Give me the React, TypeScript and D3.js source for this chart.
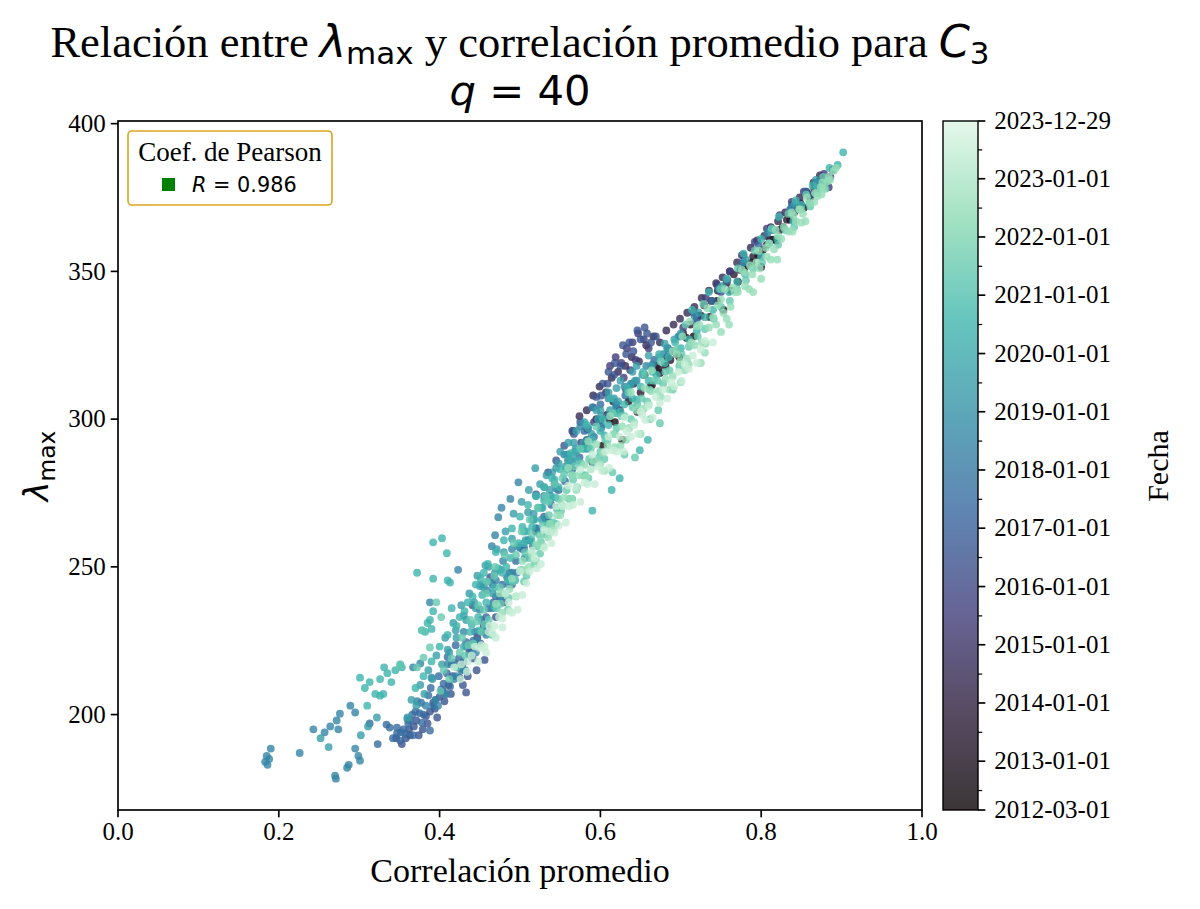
import React from "react";
import * as d3 from "d3";

// ---------------- data ----------------
const xTickValues = [0.0, 0.2, 0.4, 0.6, 0.8, 1.0];
const yTickValues = [200, 250, 300, 350, 400];
const colorbarTickLabels = [
  "2012-03-01", "2013-01-01", "2014-01-01", "2015-01-01", "2016-01-01", "2017-01-01",
  "2018-01-01", "2019-01-01", "2020-01-01", "2021-01-01", "2022-01-01", "2023-01-01", "2023-12-29",
];
const colorbarMinorTicks = [
  "2012-07-01", "2013-07-01", "2014-07-01", "2015-07-01", "2016-07-01", "2017-07-01",
  "2018-07-01", "2019-07-01", "2020-07-01", "2021-07-01", "2022-07-01", "2023-07-01",
];
const dateStart = "2012-03-01";
const dateEnd = "2023-12-29";
const groupDates = [
  "2012-08-01", "2013-07-01", "2014-07-01", "2015-07-01", "2016-07-01", "2017-07-01",
  "2018-07-01", "2019-07-01", "2020-07-01", "2021-07-01", "2022-07-01", "2023-07-01",
];
const pearsonR = 0.986;

// [correlación promedio, lambda_max]
const pts2012 = [[0.58,291],[0.59,285.5],[0.603,291],[0.611,300],[0.618,299],[0.627,293],[0.635,306],[0.646,302.5],[0.655,315],[0.664,311.5],[0.672,317],[0.681,318],[0.69,323],[0.698,321],[0.707,327.5],[0.716,328],[0.725,335],[0.736,334.6],[0.745,340],[0.753,337],[0.762,343.5],[0.771,346.5],[0.779,351],[0.788,353],[0.796,355.5],[0.802,357.3],[0.811,360.7],[0.819,360.5],[0.827,365],[0.836,367.5],[0.845,371],[0.853,371.5],[0.861,375]];
const pts2013 = [[0.595,300],[0.6,299.7],[0.608,301.4],[0.616,306],[0.624,303],[0.632,310],[0.641,312],[0.65,309],[0.662,311],[0.669,318],[0.674,315.6],[0.683,321],[0.687,320],[0.695,322],[0.703,329],[0.712,332],[0.721,335],[0.729,338.5],[0.738,340],[0.746,343.5],[0.757,346],[0.766,349],[0.774,350.5],[0.782,352],[0.79,355],[0.8,351.5],[0.807,359],[0.815,360.7],[0.823,364],[0.832,367.5],[0.841,370],[0.849,373],[0.857,376.5],[0.866,378],[0.872,380.5]];
const pts2014 = [[0.566,296],[0.574,301],[0.583,303],[0.591,308],[0.599,311],[0.607,309],[0.614,314],[0.622,316],[0.631,318],[0.639,321],[0.648,319.5],[0.657,325],[0.666,328],[0.674,326],[0.682,330],[0.691,332],[0.699,334],[0.708,336],[0.717,338],[0.726,341],[0.735,343.5],[0.744,346],[0.752,348],[0.761,350],[0.77,353],[0.778,355.5],[0.787,358],[0.795,360.5],[0.804,362],[0.812,365],[0.821,367],[0.83,370],[0.839,372.5],[0.848,375],[0.856,377],[0.865,380],[0.873,382.5]];
const pts2015 = [[0.612,318],[0.619,321],[0.626,319],[0.633,324],[0.64,326],[0.647,329],[0.654,327],[0.66,324],[0.644,320],[0.637,316.6],[0.629,314],[0.576,292],[0.584,296.5],[0.592,299],[0.569,289],[0.56,286],[0.703,331],[0.716,336],[0.731,341],[0.745,345.5],[0.761,350],[0.776,355.5],[0.792,360],[0.807,364.5],[0.823,369],[0.838,373.5],[0.853,377],[0.868,380],[0.878,383],[0.882,380],[0.886,382],[0.889,384.4],[0.884,378.5],[0.428,217],[0.437,221],[0.447,226],[0.455,230],[0.52,262],[0.532,266]];
const pts2016 = [[0.641,323],[0.65,327],[0.658,329],[0.663,326],[0.669,328],[0.632,322],[0.625,318],[0.617,315],[0.609,312],[0.601,308],[0.591,304],[0.583,293],[0.575,299],[0.567,295],[0.555,291],[0.545,286],[0.388,201],[0.392,204],[0.4,206],[0.404,208],[0.397,199],[0.385,197],[0.379,195],[0.374,193],[0.368,196],[0.363,193],[0.358,192],[0.353,190],[0.346,192],[0.411,210],[0.416,213],[0.421,216],[0.435,213],[0.429,210],[0.441,219],[0.451,224],[0.459,229.5],[0.441,237],[0.463,246.5],[0.47,233],[0.48,238],[0.862,376],[0.869,378],[0.876,380],[0.881,381],[0.72,334],[0.75,343],[0.52,274.5],[0.535,282],[0.565,296],[0.595,307.5],[0.362,195],[0.371,198],[0.383,199.5],[0.394,202],[0.406,204.5],[0.414,207],[0.425,212.5],[0.433,207.5],[0.446,215],[0.456,218.5],[0.636,326],[0.646,330],[0.655,331],[0.628,325],[0.618,319],[0.61,316],[0.603,312]];
const pts2017 = [[0.313,197],[0.323,190],[0.334,196.6],[0.338,195.6],[0.342,192],[0.347,193.6],[0.351,191.2],[0.355,195],[0.361,197],[0.367,193],[0.378,197.3],[0.388,194.6],[0.347,195.6],[0.363,198],[0.38,200],[0.395,205],[0.405,210.5],[0.409,214],[0.415,217],[0.424,219],[0.433,223],[0.444,228],[0.452,232],[0.461,236],[0.47,240],[0.478,244],[0.487,248],[0.495,252],[0.503,256],[0.512,259],[0.521,263],[0.53,267],[0.539,271],[0.548,276],[0.556,279],[0.565,283],[0.574,287],[0.583,290],[0.592,294],[0.601,297],[0.61,301],[0.62,304],[0.631,308],[0.667,320],[0.684,324],[0.699,328],[0.718,333],[0.739,340],[0.758,347],[0.778,353],[0.797,359],[0.816,364],[0.836,371],[0.855,377],[0.87,380],[0.352,194],[0.37,201],[0.386,206.5],[0.402,208.5],[0.418,217.5],[0.433,224.5],[0.45,228],[0.467,238],[0.484,246.5],[0.5,256.5],[0.517,266],[0.543,278],[0.56,288],[0.58,296],[0.6,305],[0.357,193.5],[0.375,200.5],[0.392,203],[0.413,209.5],[0.427,215.5],[0.44,221.5],[0.455,228],[0.475,239],[0.49,244],[0.505,256.5],[0.366,200],[0.377,204],[0.389,209],[0.399,213],[0.41,219.5],[0.42,223.5],[0.43,218],[0.442,225],[0.458,233],[0.466,244]];
const pts2018 = [[0.183,184],[0.186,183],[0.188,185],[0.185,186],[0.19,188.5],[0.226,187],[0.243,195],[0.257,194],[0.264,196],[0.272,198],[0.276,200.3],[0.274,195],[0.289,203],[0.295,200.7],[0.27,179.3],[0.271,178.3],[0.285,182],[0.287,183],[0.295,188.5],[0.299,186],[0.301,184.4],[0.388,238],[0.423,249],[0.367,216],[0.376,217.3],[0.398,203],[0.407,207],[0.418,212],[0.427,215],[0.437,220],[0.447,225],[0.457,230],[0.466,236],[0.476,240],[0.486,244],[0.496,248],[0.506,253],[0.516,257],[0.526,261],[0.536,265],[0.546,270],[0.459,242],[0.469,248],[0.479,252],[0.465,257],[0.469,260.7],[0.473,266.8],[0.477,270],[0.488,273],[0.498,278.6],[0.601,298],[0.619,305],[0.638,312],[0.657,318],[0.678,322],[0.697,328],[0.717,335],[0.747,344],[0.778,353],[0.808,363],[0.838,372],[0.36,198.5],[0.372,204.5],[0.39,212.5],[0.41,217],[0.43,228],[0.45,235.5],[0.47,245.5],[0.49,256],[0.51,259],[0.53,274],[0.555,288],[0.575,297.5],[0.59,304],[0.61,307],[0.63,311],[0.383,203],[0.395,205],[0.408,207],[0.42,213],[0.432,215],[0.445,221],[0.458,227],[0.49,248],[0.52,263],[0.545,276.5],[0.565,285.5],[0.585,293],[0.62,305],[0.645,313],[0.665,318.5],[0.685,323]];
const pts2019 = [[0.519,283.4],[0.533,281],[0.525,278],[0.511,276],[0.502,272],[0.492,268],[0.482,262],[0.471,256],[0.461,250],[0.452,244],[0.443,238],[0.433,232],[0.421,226],[0.412,221],[0.403,217],[0.391,212],[0.381,207],[0.371,203],[0.36,199],[0.302,193],[0.311,196],[0.322,199],[0.252,192],[0.262,189],[0.548,285],[0.558,288],[0.569,290],[0.579,292],[0.589,295],[0.601,301],[0.612,303],[0.622,306],[0.633,309],[0.643,313],[0.652,315],[0.663,318],[0.673,321],[0.683,324],[0.692,327],[0.722,336],[0.751,345],[0.781,354],[0.812,364],[0.842,373],[0.868,381],[0.505,262],[0.515,266],[0.527,270],[0.538,274],[0.445,236],[0.455,243],[0.466,241],[0.476,249],[0.486,247],[0.497,257],[0.507,259],[0.517,268],[0.527,266],[0.537,276],[0.557,284],[0.567,292],[0.577,290],[0.597,300],[0.617,307],[0.637,311.5],[0.41,222],[0.42,228.5],[0.43,233.5],[0.45,243.5],[0.46,245],[0.48,255],[0.49,259.5],[0.51,268.5],[0.52,274],[0.54,282],[0.56,292],[0.58,299],[0.6,303],[0.62,310.5],[0.64,316],[0.66,321.5],[0.68,325.5],[0.7,329],[0.365,205],[0.376,210],[0.386,215],[0.396,220],[0.407,226],[0.417,231],[0.427,237],[0.437,241],[0.447,247],[0.457,250.5],[0.53,277],[0.545,283.5],[0.55,289],[0.565,287],[0.57,296],[0.585,297],[0.595,303],[0.61,309],[0.625,313],[0.645,318]];
const pts2020 = [[0.301,212.5],[0.307,209],[0.313,211],[0.32,207],[0.326,206.4],[0.33,207],[0.31,203],[0.326,212],[0.335,214],[0.34,211],[0.345,215],[0.353,216],[0.331,216],[0.351,217],[0.382,228],[0.385,231],[0.39,229],[0.378,228.5],[0.392,246],[0.41,245.4],[0.413,244.7],[0.392,258.3],[0.403,259.7],[0.409,254.6],[0.372,248],[0.388,232],[0.392,235],[0.415,236],[0.421,230],[0.431,235],[0.441,240],[0.451,246],[0.46,251],[0.47,255],[0.48,259],[0.49,263],[0.5,267],[0.51,271],[0.52,274],[0.53,277],[0.54,280],[0.55,283],[0.56,286],[0.57,289],[0.58,290],[0.438,228],[0.448,233],[0.458,238],[0.468,243],[0.478,248],[0.488,253],[0.498,258],[0.508,262],[0.518,266],[0.528,270],[0.538,273],[0.6,296],[0.62,302],[0.64,307],[0.66,313],[0.68,319],[0.7,324],[0.72,330],[0.74,337],[0.76,343],[0.78,349],[0.8,355],[0.82,361],[0.84,367],[0.86,373],[0.88,380],[0.895,386],[0.902,390.3],[0.624,280],[0.614,276],[0.649,289.5],[0.659,293],[0.59,269],[0.43,223],[0.44,230.5],[0.449,228.5],[0.468,236.5],[0.485,245.5],[0.494,245.5],[0.514,259],[0.524,261],[0.534,264.5],[0.544,273.5],[0.565,281],[0.585,290.5],[0.605,294.5],[0.625,302.5],[0.645,306.5],[0.67,315],[0.71,327],[0.73,334.5],[0.77,346.5],[0.81,359.5],[0.85,372.5],[0.87,378.5],[0.714,337],[0.735,343],[0.757,347.5],[0.778,356],[0.8,361],[0.822,368.5],[0.843,374],[0.864,379],[0.885,385],[0.453,240.5],[0.473,249.5],[0.483,250],[0.503,263.5],[0.523,270],[0.543,279.5],[0.563,288.5],[0.583,298],[0.603,300],[0.613,307],[0.633,310.5],[0.653,316],[0.673,322],[0.693,326],[0.37,209],[0.38,213],[0.39,218],[0.4,223],[0.41,227],[0.425,233],[0.435,238],[0.445,244],[0.455,248],[0.505,258],[0.515,263.5],[0.53,272.5],[0.548,277],[0.558,283],[0.572,286],[0.59,293],[0.61,298],[0.63,305],[0.65,311],[0.665,316],[0.685,321]];
const pts2021 = [[0.401,208],[0.412,212],[0.421,216],[0.432,220],[0.442,224],[0.452,228],[0.461,232],[0.471,236],[0.481,241],[0.491,245],[0.501,249],[0.511,253],[0.521,257],[0.531,261],[0.541,265],[0.551,269],[0.561,273],[0.571,277],[0.581,281],[0.591,285],[0.6,289],[0.459,245],[0.469,250],[0.481,254],[0.492,258],[0.502,262],[0.512,266],[0.522,270],[0.532,274],[0.543,278],[0.553,280],[0.609,293],[0.62,297],[0.63,301],[0.64,304],[0.651,307],[0.661,310],[0.671,313],[0.681,316],[0.701,322],[0.721,328],[0.741,334],[0.761,340],[0.781,347],[0.801,353],[0.821,359],[0.841,365],[0.861,372],[0.88,378],[0.402,233],[0.396,238],[0.351,216.6],[0.372,216],[0.38,219.3],[0.388,222.7],[0.378,228.5],[0.63,288],[0.662,300],[0.69,310],[0.615,282],[0.672,303],[0.643,287],[0.674,298.6],[0.425,221],[0.436,223.5],[0.447,231.5],[0.456,230.5],[0.476,237.5],[0.486,239.5],[0.506,255],[0.526,258.5],[0.536,267.5],[0.546,269.5],[0.566,279.5],[0.576,285],[0.586,286.5],[0.606,293],[0.626,301],[0.646,305],[0.666,313],[0.686,316.5],[0.71,324.5],[0.73,330.5],[0.75,338],[0.77,344],[0.79,351],[0.83,364],[0.85,371],[0.87,376.5],[0.706,332],[0.728,339],[0.749,344],[0.771,351],[0.792,357],[0.813,364.5],[0.834,369.5],[0.856,376],[0.877,382],[0.455,235.5],[0.465,227],[0.475,243],[0.485,235.5],[0.495,254],[0.505,245],[0.515,261],[0.525,254.5],[0.535,272],[0.545,264.5],[0.555,281.5],[0.565,273],[0.575,290],[0.585,280],[0.595,297.5],[0.605,286.5],[0.615,302],[0.635,309],[0.655,315],[0.675,319.5],[0.695,323.5],[0.405,215],[0.415,219],[0.428,226],[0.438,232],[0.448,237],[0.458,241],[0.468,247],[0.508,247],[0.518,251],[0.528,264],[0.538,262],[0.548,273],[0.558,276],[0.568,284],[0.578,281],[0.588,290],[0.598,287],[0.618,295],[0.638,300],[0.658,306],[0.678,312],[0.698,318]];
const pts2022 = [[0.47,237.5],[0.478,234.5],[0.487,242.5],[0.495,240],[0.503,252],[0.511,250],[0.52,257.5],[0.529,257],[0.537,264.5],[0.546,267.5],[0.555,273.5],[0.564,273],[0.573,281],[0.582,280.5],[0.591,286],[0.6,285],[0.609,291],[0.618,290.5],[0.627,297.5],[0.636,297],[0.645,303],[0.654,303.5],[0.663,309.5],[0.672,309.5],[0.681,313.5],[0.69,314.5],[0.699,319.5],[0.708,320.5],[0.717,325],[0.726,326],[0.735,331],[0.744,332],[0.753,336],[0.762,338],[0.771,343],[0.78,345],[0.789,349],[0.798,351],[0.807,355],[0.816,357.5],[0.825,361],[0.834,363.5],[0.843,367],[0.852,369.5],[0.861,373],[0.87,375.5],[0.878,378],[0.886,381],[0.56,283.5],[0.585,292.5],[0.612,301],[0.638,309],[0.664,316.5],[0.69,323],[0.72,331.5],[0.75,340.5],[0.78,349.5],[0.81,359.5],[0.84,369],[0.65,295],[0.7,312.5],[0.75,329.5],[0.8,347.5],[0.85,366.5],[0.705,316.5],[0.713,326],[0.731,325.5],[0.74,334.5],[0.757,334],[0.767,343],[0.785,344],[0.794,353],[0.812,354],[0.821,362],[0.839,363.5],[0.848,371],[0.866,373.5],[0.874,378.5],[0.883,380.5],[0.89,384],[0.52,252],[0.535,260],[0.55,267.5],[0.565,281],[0.58,284.5],[0.595,291.5],[0.625,291],[0.655,310.5],[0.675,307.5],[0.695,322],[0.605,282.5],[0.702,328],[0.711,333],[0.723,332],[0.733,337.5],[0.746,338.5],[0.755,344],[0.765,344.5],[0.776,350.5],[0.786,352],[0.797,357],[0.806,358],[0.818,364],[0.828,365],[0.838,370],[0.847,371],[0.857,375],[0.867,376.5],[0.876,380],[0.884,382],[0.893,385],[0.725,319],[0.76,332],[0.79,343],[0.82,354],[0.855,367],[0.875,376],[0.475,241],[0.49,246],[0.506,249],[0.515,254.5],[0.525,260.5],[0.542,263],[0.552,271],[0.57,276],[0.588,283],[0.603,288.5],[0.616,295],[0.632,293],[0.642,299],[0.66,305],[0.686,310],[0.71,318.5],[0.73,322.5]];
const pts2023 = [[0.418,216],[0.427,217],[0.435,218],[0.444,223],[0.452,223.5],[0.461,228],[0.47,226],[0.478,232.5],[0.487,235],[0.495,240],[0.503,240.5],[0.512,248.5],[0.521,249.5],[0.53,256.5],[0.539,258],[0.548,264],[0.557,265],[0.566,271],[0.575,272],[0.584,278],[0.593,278],[0.602,282.5],[0.611,283.5],[0.62,289],[0.629,289],[0.638,294],[0.647,295],[0.656,299.7],[0.665,300.5],[0.674,305.5],[0.683,307],[0.692,311],[0.701,313],[0.71,317],[0.72,319],[0.482,241],[0.5,248.5],[0.515,255.5],[0.53,262.5],[0.545,270.5],[0.56,277.5],[0.575,283],[0.59,288],[0.61,294],[0.63,300.5],[0.65,302.5],[0.44,220],[0.456,223],[0.466,227.5],[0.474,233],[0.49,234.5],[0.508,244.5],[0.526,251],[0.543,261.5],[0.561,270.5],[0.58,278.5],[0.597,284],[0.615,289.5],[0.633,296],[0.652,301.5],[0.669,307.5],[0.688,312.5],[0.705,318.5],[0.725,323.5],[0.74,326],[0.45,222.5],[0.462,230],[0.486,238],[0.497,235.5],[0.518,253],[0.536,262],[0.553,270.5],[0.57,277],[0.588,283],[0.606,289],[0.624,294],[0.642,298],[0.66,304.5],[0.678,310],[0.697,316],[0.715,321.5],[0.73,326.5],[0.426,212],[0.434,214.5],[0.448,218],[0.458,221],[0.468,230],[0.478,229.5]];

const groups = [pts2012, pts2013, pts2014, pts2015, pts2016, pts2017, pts2018, pts2019, pts2020, pts2021, pts2022, pts2023];

// mako colormap key colours
const makoStops = [0, 1 / 7, 2 / 7, 3 / 7, 4 / 7, 5 / 7, 6 / 7, 1];
const makoColors = ["#0b0405", "#2e1e3b", "#413d7b", "#37659e", "#348fa7", "#40b7ad", "#8bdab2", "#def5e5"];

const SERIF = "'Liberation Serif', 'Times New Roman', serif";
const SANS = "'DejaVu Sans', sans-serif";

export default function App() {
  const W = 1200;
  const H = 909;
  const left = 118, right = 922, top = 121, bottom = 810;
  const cbX0 = 943, cbX1 = 978;
  const alpha = 0.8;

  const all = groups.flat();
  const yMin = d3.min(all, (d) => d[1]) as number;
  const yMax = d3.max(all, (d) => d[1]) as number;
  const pad = (yMax - yMin) * 0.05;

  const x = d3.scaleLinear().domain([0, 1]).range([left, right]);
  const y = d3.scaleLinear().domain([yMin - pad, yMax + pad]).range([bottom, top]);

  const parse = d3.timeParse("%Y-%m-%d");
  const d0 = parse(dateStart) as Date;
  const d1 = parse(dateEnd) as Date;
  const tNorm = d3.scaleTime().domain([d0, d1]).range([0, 1]).clamp(true);
  const cbY = d3.scaleTime().domain([d0, d1]).range([bottom, top]);
  const mako = d3
    .scaleLinear<string>()
    .domain(makoStops)
    .range(makoColors)
    .interpolate(d3.interpolateRgb)
    .clamp(true);

  const tickLen = 7.3;
  const lw = 1.67;

  return (
    <div style={{ position: "absolute", left: 0, top: 0 }}>
      <svg width={W} height={H} viewBox={`0 0 ${W} ${H}`} style={{ display: "block", background: "#fff" }}>
        <defs>
          <linearGradient id="makoGrad" x1="0" y1="1" x2="0" y2="0">
            {makoStops.map((s, i) => (
              <stop key={i} offset={s} stopColor={makoColors[i]} stopOpacity={alpha} />
            ))}
          </linearGradient>
          <clipPath id="plotClip">
            <rect x={left} y={top} width={right - left} height={bottom - top} />
          </clipPath>
        </defs>

        {/* Title */}
        <text x={520} y={57} textAnchor="middle" fontFamily={SERIF} fontSize={44.5} fill="#000">
          {"Relación entre "}
          <tspan fontFamily={SANS} fontStyle="italic">λ</tspan>
          <tspan fontFamily={SANS} fontSize={31} dy={7}>max</tspan>
          <tspan dy={-7}>{" y correlación promedio para "}</tspan>
          <tspan fontFamily={SANS} fontStyle="italic">C</tspan>
          <tspan fontFamily={SANS} fontSize={31} dy={7}>3</tspan>
        </text>
        <text x={520} y={105} textAnchor="middle" fontFamily={SANS} fontSize={41.7} fill="#000">
          <tspan fontStyle="italic">q</tspan>
          {" = 40"}
        </text>

        {/* Points */}
        <g clipPath="url(#plotClip)">
          {groups.map((g, gi) => {
            const col = mako(tNorm(parse(groupDates[gi]) as Date));
            return (
              <g key={gi} fill={col} fillOpacity={alpha}>
                {g.map((p, i) => (
                  <circle key={i} cx={x(p[0])} cy={y(p[1])} r={3.9} />
                ))}
              </g>
            );
          })}
        </g>

        {/* Axes frame */}
        <rect x={left} y={top} width={right - left} height={bottom - top} fill="none" stroke="#000" strokeWidth={lw} />

        {/* X ticks */}
        {xTickValues.map((v) => (
          <g key={v}>
            <line x1={x(v)} x2={x(v)} y1={bottom} y2={bottom + tickLen} stroke="#000" strokeWidth={lw} />
            <text x={x(v)} y={bottom + 30} textAnchor="middle" fontFamily={SERIF} fontSize={25}>
              {v.toFixed(1)}
            </text>
          </g>
        ))}
        {/* Y ticks */}
        {yTickValues.map((v) => (
          <g key={v}>
            <line x1={left - tickLen} x2={left} y1={y(v)} y2={y(v)} stroke="#000" strokeWidth={lw} />
            <text x={left - tickLen - 5} y={y(v)} dy="0.33em" textAnchor="end" fontFamily={SERIF} fontSize={25}>
              {v}
            </text>
          </g>
        ))}

        {/* Axis labels */}
        <text x={520} y={882} textAnchor="middle" fontFamily={SERIF} fontSize={34}>
          Correlación promedio
        </text>
        <text transform={`translate(48,466) rotate(-90)`} textAnchor="middle" fontFamily={SANS} fontSize={33.3}>
          <tspan fontStyle="italic">λ</tspan>
          <tspan fontSize={23.3} dy={7}>max</tspan>
        </text>

        {/* Legend */}
        <rect x={128} y={131} width={204} height={74} rx={4} ry={4} fill="#fff" fillOpacity={0.8} stroke="#daa520" strokeWidth={1.6} />
        <text x={230} y={161} textAnchor="middle" fontFamily={SERIF} fontSize={27}>
          Coef. de Pearson
        </text>
        <rect x={162} y={178} width={13} height={13} fill="#008000" />
        <text x={192} y={192} fontFamily={SANS} fontSize={20.8}>
          <tspan fontStyle="italic">R</tspan>
          {` = ${pearsonR.toFixed(3)}`}
        </text>

        {/* Colorbar */}
        <rect x={cbX0} y={top} width={cbX1 - cbX0} height={bottom - top} fill="url(#makoGrad)" />
        <rect x={cbX0} y={top} width={cbX1 - cbX0} height={bottom - top} fill="none" stroke="#000" strokeWidth={1.4} />
        {colorbarMinorTicks.map((s) => {
          const yy = cbY(parse(s) as Date);
          return <line key={s} x1={cbX1} x2={cbX1 + 4.2} y1={yy} y2={yy} stroke="#000" strokeWidth={1.2} />;
        })}
        {colorbarTickLabels.map((s) => {
          const yy = cbY(parse(s) as Date);
          return (
            <g key={s}>
              <line x1={cbX1} x2={cbX1 + tickLen} y1={yy} y2={yy} stroke="#000" strokeWidth={lw} />
              <text x={cbX1 + tickLen + 9} y={yy} dy="0.33em" fontFamily={SERIF} fontSize={25}>
                {s}
              </text>
            </g>
          );
        })}
        <text transform={`translate(1168,466) rotate(-90)`} textAnchor="middle" fontFamily={SERIF} fontSize={30}>
          Fecha
        </text>
      </svg>
    </div>
  );
}
